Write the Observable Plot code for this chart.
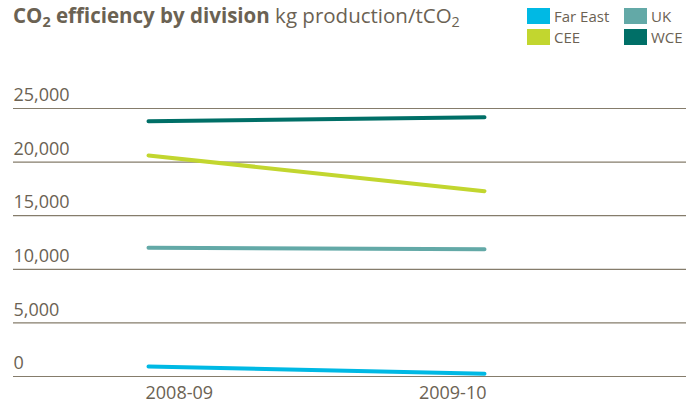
<!DOCTYPE html>
<html>
<head>
<meta charset="utf-8">
<script src="https://cdn.jsdelivr.net/npm/d3@7"></script>
<script src="https://cdn.jsdelivr.net/npm/@observablehq/plot@0.6"></script>
<style>
  body { margin: 0; background: #fff; font-family: "Open Sans", sans-serif; color: #6b6253; }
  #wrap { position: relative; width: 686px; height: 406px; }
  #title { position: absolute; left: 13px; top: 1px; font-size: 20.5px; white-space: nowrap; }
  #title b { font-weight: 700; }
  #title sub { font-size: 0.7em; vertical-align: -0.25em; line-height: 0; }
  #legend { position: absolute; left: 527px; top: 8px; display: grid; grid-template-columns: 97px 80px; row-gap: 5px; font-size: 15px; line-height: 16px; }
  .item { display: flex; align-items: center; height: 16px; line-height: 16px; }
  .sw { width: 23px; height: 16px; margin-right: 4px; flex: none; }
  #chart { position: absolute; left: 0; top: 50px; }
</style>
</head>
<body>
<div id="wrap">
  <div id="title"><b>CO<sub>2</sub> efficiency by division</b> kg production/tCO<sub>2</sub></div>
  <div id="legend"></div>
  <div id="chart"></div>
</div>
<script>
const periods = ["2008-09", "2009-10"];
const divisions = ["Far East", "UK", "CEE", "WCE"];
const farEast = [930, 250];
const uk = [12000, 11880];
const cee = [20620, 17290];
const wce = [23820, 24190];
const yTicks = [0, 5000, 10000, 15000, 20000, 25000];
const colors = ["#00b9e4", "#63a9a7", "#c2d62f", "#006f67"];

const seriesValues = [farEast, uk, cee, wce];
const rows = [];
divisions.forEach((d, i) => periods.forEach((p, j) => rows.push({division: d, period: p, value: seriesValues[i][j]})));

// legend
const legendOrder = ["Far East", "UK", "CEE", "WCE"];
const legend = document.getElementById("legend");
legendOrder.forEach(d => {
  const it = document.createElement("div");
  it.className = "item";
  const sw = document.createElement("span");
  sw.className = "sw";
  sw.style.background = colors[divisions.indexOf(d)];
  it.appendChild(sw);
  const lab = document.createElement("span");
  lab.textContent = d;
  it.appendChild(lab);
  legend.appendChild(it);
});

const textColor = "#6b6253";
const chart = Plot.plot({
  width: 686,
  height: 356,
  marginLeft: 13,
  marginRight: 0,
  marginTop: 58,
  marginBottom: 30,
  style: {fontFamily: "Open Sans, sans-serif", color: textColor, background: "transparent"},
  x: {type: "point", domain: periods, range: [148, 484], padding: 0, axis: null},
  y: {domain: [0, 25000], axis: null},
  color: {domain: divisions, range: colors},
  marks: [
    Plot.ruleY(yTicks, {stroke: "#857c6b", strokeWidth: 1.2}),
    Plot.text(yTicks, {y: d => d, text: d => d3.format(",")(d), frameAnchor: "left", textAnchor: "start", dy: -13, fontSize: 18, fill: textColor}),
    Plot.line(rows, {x: "period", y: "value", z: "division", stroke: "division", strokeWidth: 4, strokeLinecap: "round"}),
    Plot.text([periods[0]], {x: d => d, text: d => d, frameAnchor: "bottom", textAnchor: "start", dy: 22, dx: -3, fontSize: 18, fill: textColor}),
    Plot.text([periods[1]], {x: d => d, text: d => d, frameAnchor: "bottom", textAnchor: "end", dy: 22, dx: 2, fontSize: 18, fill: textColor})
  ]
});
document.getElementById("chart").appendChild(chart);
</script>
</body>
</html>
